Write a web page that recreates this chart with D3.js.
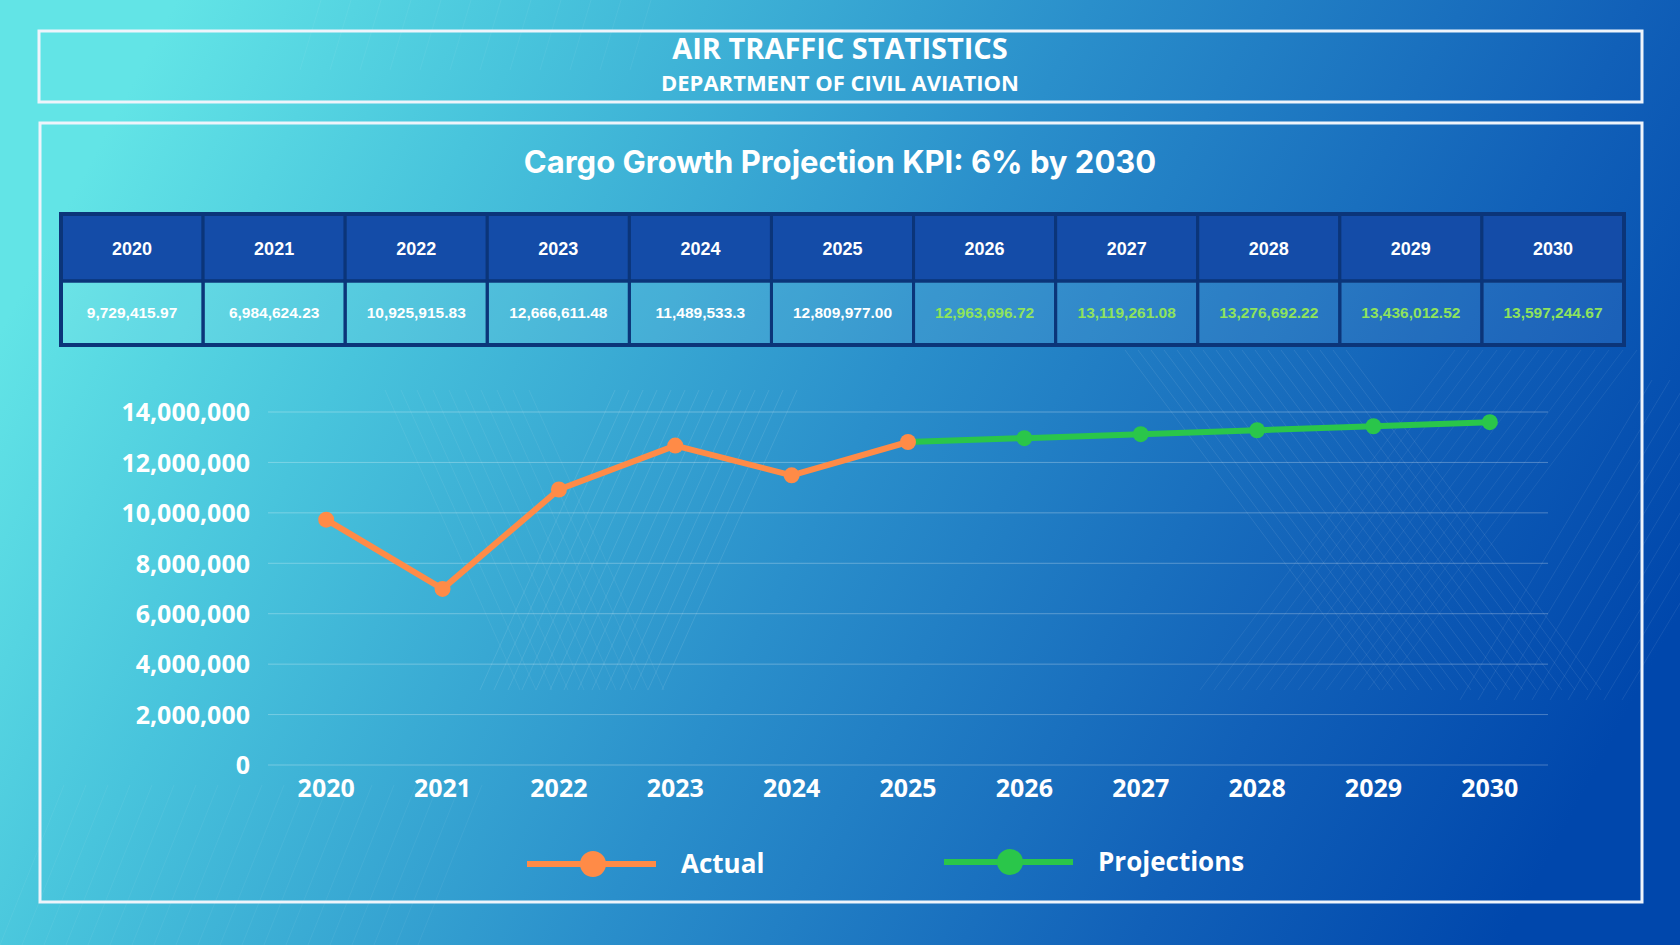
<!DOCTYPE html>
<html>
<head>
<meta charset="utf-8">
<script src="https://cdn.jsdelivr.net/npm/d3@7"></script>
<style>
  html, body { margin: 0; padding: 0; background: #1f7fc4; }
  svg { display: block; }
  .grid line { stroke: rgba(255,255,255,0.28); stroke-width: 1; }
  .axis text { fill: #fff; font-family: "Open Sans", sans-serif; font-weight: 700; font-size: 25px; }
</style>
</head>
<body>
<svg id="chart" width="1680" height="945"></svg>
<script>
const years = ['2020', '2021', '2022', '2023', '2024', '2025', '2026', '2027', '2028', '2029', '2030'];
const actualYears = ['2020', '2021', '2022', '2023', '2024', '2025'];
const actualValues = [9729415.97, 6984624.23, 10925915.83, 12666611.48, 11489533.3, 12809977.00];
const projYears = ['2025', '2026', '2027', '2028', '2029', '2030'];
const projValues = [12809977.00, 12963696.72, 13119261.08, 13276692.22, 13436012.52, 13597244.67];
const tableLabels = ['9,729,415.97', '6,984,624.23', '10,925,915.83', '12,666,611.48', '11,489,533.3',
  '12,809,977.00', '12,963,696.72', '13,119,261.08', '13,276,692.22', '13,436,012.52', '13,597,244.67'];
const yTicks = [0, 2000000, 4000000, 6000000, 8000000, 10000000, 12000000, 14000000];

const W = 1680, H = 945;
const svg = d3.select('#chart');
const defs = svg.append('defs');

// background gradient
const bg = defs.append('linearGradient').attr('id', 'bg')
  .attr('x1', '0').attr('y1', '0.35').attr('x2', '1').attr('y2', '0.65');
bg.append('stop').attr('offset', '0').attr('stop-color', '#62e4e6');
bg.append('stop').attr('offset', '0.2').attr('stop-color', '#48c4dc');
bg.append('stop').attr('offset', '0.5').attr('stop-color', '#2a8fcb');
bg.append('stop').attr('offset', '0.8').attr('stop-color', '#1160b8');
bg.append('stop').attr('offset', '1').attr('stop-color', '#0047ac');
svg.append('rect').attr('width', W).attr('height', H).attr('fill', 'url(#bg)');

// decorative hatching
const deco = svg.append('g').attr('stroke', '#fff').attr('fill', 'none');
function hatch(x0, y0, len, dx, dy, n, gap, op) {
  d3.range(n).forEach(i => {
    deco.append('line')
      .attr('x1', x0 + i * gap).attr('y1', y0)
      .attr('x2', x0 + i * gap + dx * len).attr('y2', y0 + dy * len)
      .attr('stroke-opacity', op).attr('stroke-width', 1);
  });
}
hatch(480, 690, 300, 0.45, -1, 14, 14, 0.10);
hatch(520, 690, 300, -0.45, -1, 10, 16, 0.07);
hatch(1380, 690, 340, -0.75, -1, 18, 13, 0.09);
hatch(1200, 690, 340, 0.75, -1, 14, 14, 0.07);
hatch(1460, 700, 320, 0.6, -1, 10, 18, 0.08);
hatch(0, 945, 160, 0.4, -1, 20, 22, 0.06);
hatch(300, 70, 90, 0.3, -1, 12, 30, 0.06);

// frames
svg.append('rect').attr('x', 39).attr('y', 31).attr('width', 1603).attr('height', 71)
  .attr('fill', 'none').attr('stroke', '#eef4fb').attr('stroke-width', 3);
svg.append('rect').attr('x', 40).attr('y', 123).attr('width', 1602).attr('height', 779)
  .attr('fill', 'none').attr('stroke', '#eef4fb').attr('stroke-width', 3);

// header
svg.append('text').attr('x', 840).attr('y', 59).attr('text-anchor', 'middle')
  .attr('fill', '#fff').style('font-family', '"Open Sans", sans-serif')
  .style('font-weight', 700).style('font-size', '29px').text('AIR TRAFFIC STATISTICS');
svg.append('text').attr('x', 840).attr('y', 91).attr('text-anchor', 'middle')
  .attr('fill', '#fff').style('font-family', '"Open Sans", sans-serif')
  .style('font-weight', 700).style('font-size', '22px').text('DEPARTMENT OF CIVIL AVIATION');

svg.append('text').attr('x', 840).attr('y', 173).attr('text-anchor', 'middle')
  .attr('fill', '#fff').style('font-family', 'Inter, sans-serif')
  .style('font-weight', 700).style('font-size', '31px').text('Cargo Growth Projection KPI: 6% by 2030');

// table
const tx = d3.scaleBand().domain(years).range([61, 1624]);
const tTop = 214, hRow = 67, dRow = 64;
const table = svg.append('g');
table.selectAll('.hcell').data(years).enter().append('rect')
  .attr('x', d => tx(d)).attr('y', tTop)
  .attr('width', tx.bandwidth()).attr('height', hRow)
  .attr('fill', '#144ca8').attr('stroke', '#0b3579').attr('stroke-width', 3);
table.selectAll('.dcell').data(years).enter().append('rect')
  .attr('x', d => tx(d)).attr('y', tTop + hRow)
  .attr('width', tx.bandwidth()).attr('height', dRow)
  .attr('fill', 'rgba(255,255,255,0.07)').attr('stroke', '#0b3579').attr('stroke-width', 3);
table.append('rect').attr('x', 61).attr('y', tTop).attr('width', 1563).attr('height', hRow + dRow)
  .attr('fill', 'none').attr('stroke', '#0b3579').attr('stroke-width', 4);
table.selectAll('.htext').data(years).enter().append('text')
  .attr('x', d => tx(d) + tx.bandwidth() / 2).attr('y', 255)
  .attr('text-anchor', 'middle').attr('fill', '#fff')
  .style('font-family', '"Liberation Sans", Arial, sans-serif').style('font-weight', 700)
  .style('font-size', '18px').text(d => d);
table.selectAll('.dtext').data(years).enter().append('text')
  .attr('x', d => tx(d) + tx.bandwidth() / 2).attr('y', 318)
  .attr('text-anchor', 'middle')
  .attr('fill', (d, i) => i > 5 ? '#8fe35c' : '#fff')
  .style('font-family', '"Liberation Sans", Arial, sans-serif').style('font-weight', 700)
  .style('font-size', '15.5px').text((d, i) => tableLabels[i]);

// chart
const x = d3.scaleBand().domain(years).range([268, 1548]);
const y = d3.scaleLinear().domain([0, 14000000]).range([765, 412]);
const cx = d => x(d) + x.bandwidth() / 2;

svg.append('g').attr('class', 'grid')
  .selectAll('line').data(yTicks).enter().append('line')
  .attr('x1', 268).attr('x2', 1548).attr('y1', d => y(d)).attr('y2', d => y(d));

svg.append('g').attr('class', 'axis').attr('transform', 'translate(268,0)')
  .call(d3.axisLeft(y).tickValues(yTicks).tickSize(0).tickPadding(18).tickFormat(d3.format(',')))
  .call(g => g.select('.domain').remove())
  .selectAll('text').attr('dy', '0.35em');

svg.append('g').attr('class', 'axis').attr('transform', 'translate(0,765)')
  .call(d3.axisBottom(x).tickSize(0).tickPadding(14))
  .call(g => g.select('.domain').remove());

const line = d3.line().x(d => d.x).y(d => d.y);
const orange = '#ff8b47', green = '#2ac64a';

const projPts = projYears.map((d, i) => ({ x: cx(d), y: y(projValues[i]) }));
const actPts = actualYears.map((d, i) => ({ x: cx(d), y: y(actualValues[i]) }));

svg.append('path').datum(projPts).attr('d', line)
  .attr('fill', 'none').attr('stroke', green).attr('stroke-width', 6);
svg.selectAll('.pdot').data(projPts.slice(1)).enter().append('circle')
  .attr('cx', d => d.x).attr('cy', d => d.y).attr('r', 8).attr('fill', green);

svg.append('path').datum(actPts).attr('d', line)
  .attr('fill', 'none').attr('stroke', orange).attr('stroke-width', 6).attr('stroke-linejoin', 'round');
svg.selectAll('.adot').data(actPts).enter().append('circle')
  .attr('cx', d => d.x).attr('cy', d => d.y).attr('r', 8).attr('fill', orange);

// legend
const legend = [
  { label: 'Actual', color: orange, x: 527, y: 864 },
  { label: 'Projections', color: green, x: 944, y: 862 }
];
const lg = svg.selectAll('.legend').data(legend).enter().append('g')
  .attr('transform', d => `translate(${d.x},${d.y})`);
lg.append('line').attr('x1', 0).attr('x2', 129).attr('stroke', d => d.color).attr('stroke-width', 6);
lg.append('circle').attr('cx', 66).attr('r', 13).attr('fill', d => d.color);
lg.append('text').attr('x', 154).attr('y', 9).attr('fill', '#fff')
  .style('font-family', '"Open Sans", sans-serif').style('font-weight', 700).style('font-size', '26px')
  .text(d => d.label);
</script>
</body>
</html>
